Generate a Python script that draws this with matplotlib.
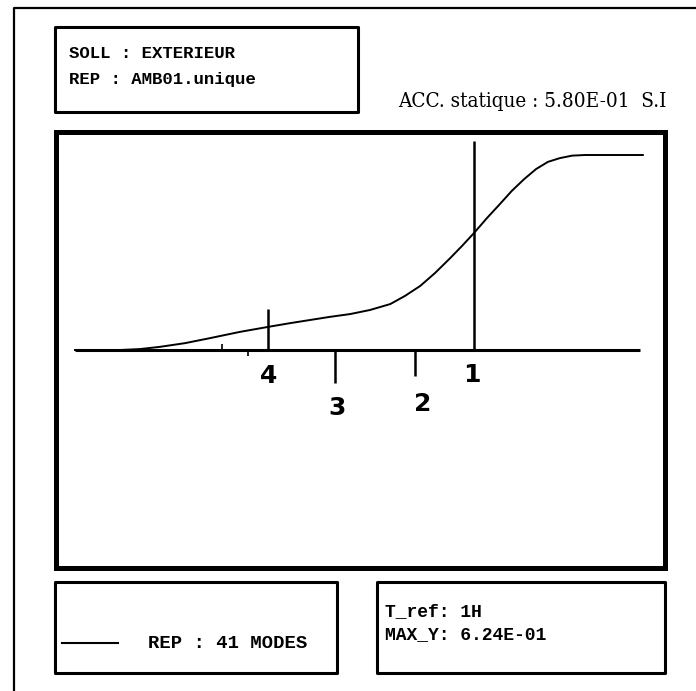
# Cumulated modal response vs period, scanned-report style
import matplotlib.pyplot as plt
from matplotlib.patches import Rectangle
from matplotlib import font_manager
from matplotlib.font_manager import FontProperties

# curve: cumulated response (y) against normalised period (x)
period = [0.000, 0.080, 0.115, 0.150, 0.195, 0.239, 0.292, 0.342, 0.381,
          0.416, 0.451, 0.487, 0.522, 0.558, 0.584, 0.611, 0.637, 0.664,
          0.685, 0.706, 0.729, 0.752, 0.773, 0.795, 0.816, 0.837, 0.858,
          0.880, 0.903, 1.005]
cumul = [0.000, 0.000, 0.003, 0.010, 0.022, 0.038, 0.058, 0.074, 0.086,
         0.096, 0.106, 0.115, 0.128, 0.147, 0.173, 0.205, 0.246, 0.294,
         0.333, 0.374, 0.422, 0.467, 0.509, 0.547, 0.579, 0.602, 0.614,
         0.622, 0.624, 0.624]

# main modes and their hand-written labels
mode_period = [0.706, 0.602, 0.460, 0.342]
mode_label = ['1', '2', '3', '4']
minor_period = [0.209, 0.260, 0.306]

header = ['SOLL : EXTERIEUR', 'REP : AMB01.unique']
static_txt = 'ACC. statique : 5.80E-01  S.I'
legend_txt = 'REP : 41 MODES'
info = ['T_ref: 1H', 'MAX_Y: 6.24E-01']

fonts = font_manager.fontManager.ttflist
names = {f.name for f in fonts}
mono_font = 'Liberation Mono' if 'Liberation Mono' in names else 'DejaVu Sans Mono'

# a condensed face for the tall narrow "ACC. statique" line, if there is one
narrow_fp = FontProperties(family='DejaVu Serif')
for want in ['DejaVu Serif', 'Liberation Sans Narrow', 'DejaVu Sans']:
    hit = [f for f in fonts if f.name == want and 'condensed' in str(f.stretch)
           and f.weight in (400, 'normal') and f.style == 'normal']
    if want == 'Liberation Sans Narrow':
        hit = [f for f in fonts if f.name == want and f.weight in (400, 'normal')
               and f.style == 'normal']
    if hit:
        narrow_fp = FontProperties(fname=hit[0].fname)
        break

W, H = 696, 691
fig = plt.figure(figsize=(W / 100, H / 100), dpi=100)

# background axes in pixel units for frames and boxes
bg = fig.add_axes([0, 0, 1, 1])
bg.set_xlim(0, W)
bg.set_ylim(H, 0)
bg.axis('off')

def box(x0, y0, x1, y1, lw=2.2):
    bg.add_patch(Rectangle((x0, y0), x1 - x0, y1 - y0, fill=False,
                           lw=lw, ec='black', joinstyle='round'))

bg.plot([14, 14, W], [H, 8, 8], color='black', lw=1.6)
box(55, 27, 358, 112)
box(55, 582, 337, 673)
box(377, 582, 665, 673)

mono = dict(family=mono_font, weight='bold', va='center', ha='left')
bg.text(69, 53, header[0], fontsize=12.5, **mono)
bg.text(69, 79, header[1], fontsize=12.5, **mono)
narrow_fp.set_size(15)
st = bg.text(398, 101, static_txt, fontproperties=narrow_fp,
             va='center', ha='left')
# fit the line to the width it takes in the scan (398 -> 667 px)
fig.canvas.draw()
wpx = st.get_window_extent().width
narrow_fp.set_size(15 * 269 / wpx)
st.set_fontproperties(narrow_fp)

bg.plot([62, 118], [643, 643], color='black', lw=1.5)
bg.text(148, 643, legend_txt, fontsize=13.6, **mono)
bg.text(385, 612, info[0], fontsize=13, **mono)
bg.text(385, 635, info[1], fontsize=13, **mono)

# data axes: its frame is the thick plot box
x0, x1, y0, y1 = 56, 665, 132, 568
ax = fig.add_axes([x0 / W, 1 - y1 / H, (x1 - x0) / W, (y1 - y0) / H])
ax.set_xlim(-0.0336, 1.0442)
ax.set_ylim(-0.6976, 0.6976)
ax.set_xticks([])
ax.set_yticks([])
for s in ax.spines.values():
    s.set_linewidth(3.6)

ax.hlines(0, 0, 1.0, color='black', lw=2.2)
ax.plot(period, cumul, color='black', lw=1.4)

ax.vlines(mode_period[0], 0, 0.669, color='black', lw=1.8)
ax.vlines(mode_period[1], -0.083, 0, color='black', lw=1.8)
ax.vlines(mode_period[2], -0.106, 0, color='black', lw=1.8)
ax.vlines(mode_period[3], 0, 0.131, color='black', lw=1.8)
ax.vlines(minor_period[0], -0.006, 0, color='black', lw=1.2)
ax.vlines(minor_period[1], 0, 0.019, color='black', lw=1.2)
ax.vlines(minor_period[2], -0.019, 0, color='black', lw=1.2)

hand = dict(fontsize=18, ha='center', va='center', family='DejaVu Sans',
            weight='bold')
ax.text(mode_period[0] - 0.003, -0.080, mode_label[0], **hand)
ax.text(mode_period[1] + 0.014, -0.173, mode_label[1], **hand)
ax.text(mode_period[2] + 0.003, -0.186, mode_label[2], **hand)
ax.text(mode_period[3], -0.083, mode_label[3], **hand)

fig.savefig('out.png', dpi=100)
